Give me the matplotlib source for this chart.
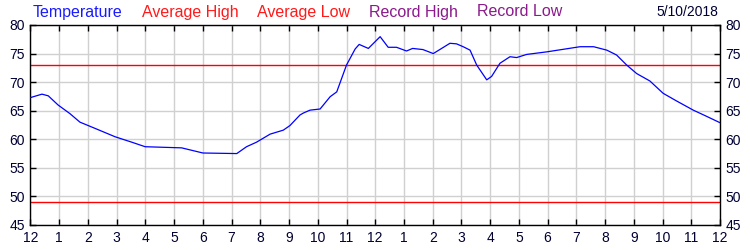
import numpy as np
import matplotlib.pyplot as plt

# hours since midnight and temperature readings (deg F)
hours = [0.0, 0.2, 0.4, 0.62, 0.96, 1.37, 1.72, 2.25, 2.94, 3.52, 3.99,
         5.26, 6.0, 7.18, 7.52, 7.87, 8.34, 8.8, 9.03, 9.38, 9.5, 9.73,
         10.08, 10.43, 10.66, 11.0, 11.3, 11.44, 11.76, 12.17, 12.45,
         12.74, 13.09, 13.3, 13.66, 14.02, 14.6, 14.83, 15.06, 15.3, 15.53,
         15.88, 16.05, 16.34, 16.69, 16.92, 17.27, 17.97, 18.55, 19.13,
         19.6, 20.06, 20.4, 20.75, 21.1, 21.56, 22.02, 22.49, 23.07,
         23.54, 24.0]
temps = [67.3, 67.6, 67.9, 67.6, 66.0, 64.5, 63.0, 61.9, 60.45, 59.5, 58.7,
         58.5, 57.6, 57.5, 58.7, 59.5, 60.9, 61.6, 62.4, 64.25, 64.6, 65.1,
         65.3, 67.45, 68.3, 73.0, 75.8, 76.6, 75.9, 77.96, 76.1,
         76.1, 75.45, 75.9, 75.7, 75.0, 76.8, 76.7, 76.2, 75.6, 73.0,
         70.4, 71.0, 73.3, 74.45, 74.3, 74.85, 75.3, 75.75, 76.2,
         76.2, 75.6, 74.75, 73.0, 71.5, 70.2, 68.05, 66.7, 65.1,
         64.0, 62.9]
avg_high = 73
avg_low = 49

hour_labels = ['12', '1', '2', '3', '4', '5', '6', '7', '8', '9', '10', '11',
               '12', '1', '2', '3', '4', '5', '6', '7', '8', '9', '10', '11',
               '12']
legend_names = ['Temperature', 'Average High', 'Average Low',
                'Record High', 'Record Low']
legend_colors = ['#1a1aff', '#ff1a1a', '#ff1a1a', '#8b1a8b', '#8b1a8b']
legend_x = [33, 142, 257, 369, 477]
date_text = '5/10/2018'

plt.rcParams['font.family'] = ['Liberation Sans', 'DejaVu Sans']

fig = plt.figure(figsize=(7.5, 2.5), dpi=100)
ax = fig.add_axes([30.5 / 750, 0.1, (720 - 30.5) / 750, 0.8])

ax.plot(hours, temps, color='#0000ff', lw=0.9, zorder=3)
ax.axhline(avg_high, color='#ff0000', lw=1.0, zorder=2)
ax.axhline(avg_low, color='#ff0000', lw=1.0, zorder=2)

ax.set_xlim(0, 24)
ax.set_ylim(45, 80)
ax.set_xticks(np.arange(25))
ax.set_xticklabels(hour_labels)
ax.set_yticks(np.arange(45, 81, 5))
ax.grid(True, color='#d0d0d0', lw=1.0, zorder=0)
ax.tick_params(direction='in', length=4, width=1, top=True, right=True,
               labelright=True, labelsize=10, labelcolor='#000033', pad=4)
for sp in ax.spines.values():
    sp.set_linewidth(1.0)

for name, col, x in zip(legend_names, legend_colors, legend_x):
    fig.text(x / 750, 1 - 12 / 250, name, color=col, fontsize=11.5,
             ha='left', va='center')
fig.text(718 / 750, 1 - 12 / 250, date_text, color='#000033', fontsize=10,
         ha='right', va='center')

fig.savefig('out.png', dpi=100)
